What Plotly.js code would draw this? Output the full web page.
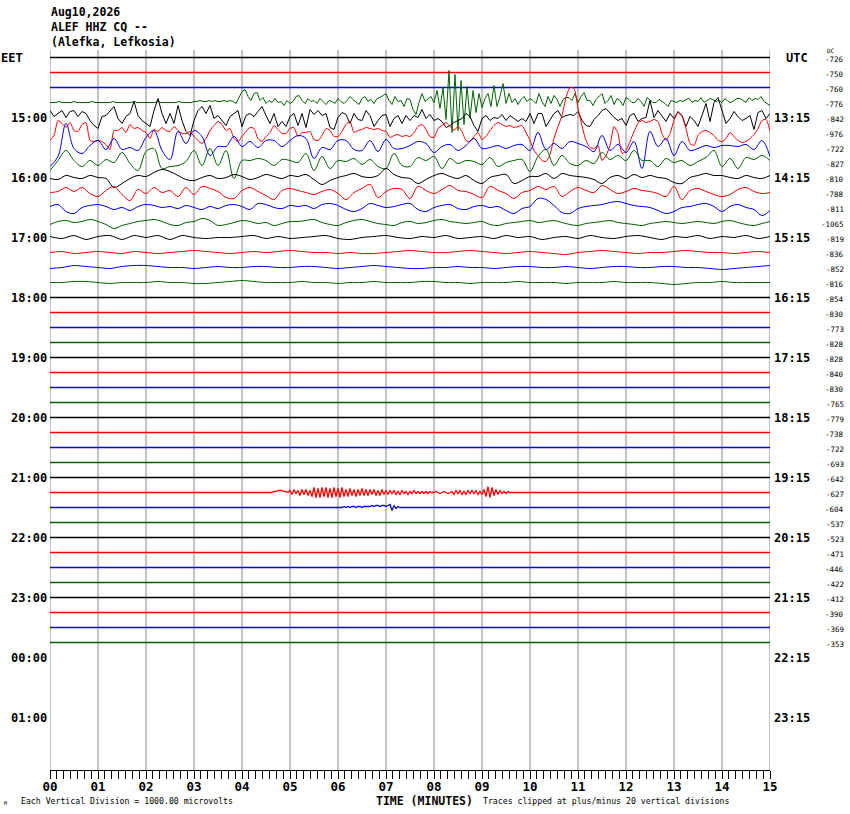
<!DOCTYPE html>
<html><head><meta charset="utf-8">
<script src="https://cdn.plot.ly/plotly-3.0.1.min.js"></script>
<style>html,body{margin:0;padding:0;background:#fff}#chart{width:850px;height:814px}</style>
</head><body><div id="chart"></div>
<script>
// ---------------- data ----------------
const headerLines = ["Aug10,2026", "ALEF HHZ CQ --", "(Alefka, Lefkosia)"];
const leftZone = "EET";
const rightZone = "UTC";
const eetLabels = ["15:00","16:00","17:00","18:00","19:00","20:00","21:00","22:00","23:00","00:00","01:00"];
const utcLabels = ["13:15","14:15","15:15","16:15","17:15","18:15","19:15","20:15","21:15","22:15","23:15"];
const dcValues = [-726,-750,-760,-776,-842,-976,-722,-827,-810,-788,-811,-1065,-819,-836,-852,-816,-854,-830,-773,-828,
  -828,-840,-830,-765,-779,-738,-722,-693,-642,-627,-604,-537,-523,-471,-446,-422,-412,-390,-369,-353];
const minuteLabels = ["00","01","02","03","04","05","06","07","08","09","10","11","12","13","14","15"];
const minuteValues = [0,1,2,3,4,5,6,7,8,9,10,11,12,13,14,15];
const rowColors = ["#000000","#ff0000","#0000ff","#006400"];
const nRows = 40;
const totalRows = 48;
const bottomLeftText = "Each Vertical Division = 1000.00 microvolts";
const axisTitle = "TIME (MINUTES)";
const bottomRightText = "Traces clipped at plus/minus 20 vertical divisions";

// trace amplitudes (1/15 of a row spacing), sampled evenly across the 15 minutes
const row3 = [0,0,0,1,0,0,0,0,1,0,0,0,0,0,1,0,0,0,0,0,0,1,0,0,0,0,0,0,1,0,0,0,0,0,0,0,1,0,0,0,0,0,0,1,0,0,0,
  0,1,1,2,1,1,2,1,2,1,1,2,1,2,1,
  -1,5,11,13,6,2,9,10,2,5,-1,2,0,4,0,1,-3,2,-1,
  1,6,7,2,-1,4,1,2,-1,4,1,-2,2,1,-1,4,1,-1,2,6,3,0,-2,4,6,1,3,-1,4,5,7,9,2,-2,6,1,2,-4,4,3,-7,-12,0,9,1,4,6,0,
  12,-6,15,-17,32,-30,28,-28,22,-22,16,-16,12,-10,9,-5,4,9,-4,17,-4,6,19,-1,9,0,4,-2,3,6,1,4,
  2,-1,9,1,-4,6,-1,7,3,-4,3,5,5,2,9,0,6,10,2,2,-3,3,6,9,-1,2,7,-2,4,2,-3,5,3,0,0,4,1,-4,5,2,0,0,3,1,-1,-4,2,1,0,2,
  1,3,4,0,2,1,5,0,2,4,3,1,2,0,4,1,0,2,4,4,2,0,5,2,4,3,6,1,-1,-3];
const row4 = [7,1,4,7,0,6,7,1,6,4,-3,-8,-11,1,2,7,11,-1,-6,1,4,16,2,-3,-6,-9,7,19,4,-6,4,-6,12,-3,-14,-18,-3,7,11,4,12,-1,2,-3,-8,1,4,7,-9,2,4,1,6,11,2,-6,4,-9,-4,-9,1,4,
  -8,4,-10,8,3,7,2,4,-10,-12,0,5,3,-6,4,-2,-3,7,2,-9,-3,2,3,-9,-1,2,-6,2,-3,2,0,8,-1,3,-3,-1,-4,-10,-8,-5,-3,-1,4,1,-8,-14,-1,2,-3,0,-1,3,-3,2,-1,-4,-1,-4,4,
  -6,4,4,-9,-2,4,7,0,2,3,2,6,-3,-8,-9,-2,2,7,9,4,0,-3,-1,-8,2,4,-4,-1,0,17,0,7,2,-4,4,-1,6,2,-9,1,-3,-9,2,14,-4,15,20,7,-6,-1,6,1,-3,-1,2,-12,5,7,-1,4];
const row5 = [-8,-3,12,9,5,10,2,1,8,10,-8,-9,-8,-9,-12,-17,2,2,5,0,8,4,5,2,0,-6,3,1,5,2,1,6,2,-1,-1,1,-4,-8,-11,-6,2,7,11,8,2,4,-6,-9,-4,1,5,4,-6,-9,-4,0,7,3,-1,-1,4,5,
  -4,0,0,1,-7,-8,-3,4,2,-4,-4,1,8,11,0,2,3,5,4,3,4,2,1,-5,-3,-2,-4,-3,-4,0,6,8,3,-4,-5,4,7,10,6,2,6,1,-8,-9,-4,0,-7,-4,2,7,10,8,6,7,5,6,7,0,-8,
  -18,-23,-28,-29,-22,-6,6,17,35,45,44,24,7,-8,-15,-16,-13,-28,-23,-13,6,-1,-21,-18,-9,1,9,12,10,11,13,11,-1,-8,-1,12,20,16,4,-11,-13,-3,1,2,0,-3,-8,-9,-6,0,-4,-8,-10,-9,-6,-2,4,12,13,2];
const row6 = [-19,-9,24,-1,-6,2,7,-2,9,-2,0,-3,10,17,-3,-12,16,4,17,11,-8,1,1,11,1,6,0,7,7,1,7,
  12,9,-11,0,-2,7,7,-2,-3,7,-4,8,-1,-1,2,6,4,-5,1,3,-3,2,9,-1,0,2,-1,2,3,-3,
  15,-2,4,-1,6,4,1,-4,12,-3,3,-5,6,-21,16,1,9,-8,6,-3,-1,2,0,2,2,1,3,-2,7,-9];
const row7 = [-8,2,12,2,-4,2,-3,3,0,10,-1,-8,11,14,-6,-4,-3,1,12,-3,14,-3,12,-16,2,2,4,2,-3,3,2,
  0,9,-8,6,-6,2,1,4,-2,3,-4,-6,9,-3,-4,5,2,6,-6,4,-1,2,1,-2,5,-4,0,2,3,-9,
  6,13,-3,7,-1,-3,2,-1,10,3,7,2,12,2,2,-4,4,0,2,-3,1,5,12,-4,4,-6,5,3,7,2];
const row8 = [-1,-2,2,0,-1,2,0,-1,-10,-6,-1,2,1,5,8,6,2,-2,-3,0,2,-1,0,3,1,-2,0,3,1,-1,2,
  1,3,-2,-7,-3,0,2,4,1,0,2,9,3,0,-1,-6,-2,2,4,1,-1,2,-3,-6,0,2,3,-6,-3,1,
  1,4,-1,4,2,1,0,-2,-6,0,2,-1,3,0,2,0,-1,-5,-6,0,2,4,2,2,0,-1,2,0,-1,2];
const row9 = [0,1,5,1,5,-1,-4,2,6,-2,-8,3,-1,5,0,2,-4,5,-2,6,4,1,-5,-6,2,5,1,-3,-7,2,4,
  2,0,-2,1,3,-1,-7,0,4,8,-5,1,4,3,-6,6,2,-1,3,7,2,1,-2,-5,6,2,-1,-6,0,2,
  6,3,6,-4,1,5,2,0,7,3,-1,1,4,2,1,-1,-4,6,-7,2,4,1,-2,-4,-2,3,5,1,-1,0];
const row10 = [1,3,-4,-6,0,2,3,1,-2,0,-3,1,3,2,0,1,-1,2,0,-2,1,-1,2,3,1,-2,4,3,0,-1,2,
  1,2,-1,3,4,2,-2,-4,-1,4,2,0,1,3,4,-2,-4,0,2,3,-1,-2,1,2,0,1,-3,-6,-1,1,
  9,8,2,-5,-6,-1,1,2,3,5,6,4,2,1,0,-3,-6,-4,0,1,3,4,1,-4,1,3,0,-2,-8,-3];
const row11 = [-2,1,2,0,1,3,1,-2,-6,-3,-1,1,2,3,1,-2,-3,0,1,4,2,-3,-2,0,2,1,-1,0,-3,-1,1,
  1,2,3,0,-2,-3,0,2,3,1,-1,-2,-3,0,1,-1,0,2,3,1,0,-1,0,1,-2,-3,-1,0,1,2,
  0,1,2,0,-2,-3,-1,0,1,2,0,-1,-2,-3,-1,0,1,0,-1,0,1,0,-1,1,2,0,-2,-3,-1,1];
const row12 = [1,-1,2,-2,1,2,-2,2,0,2,-2,2,0,-1,0,0,1,2,-1,1,-1,0,1,2,-1,-2,0,1,2,0,-1,1,0,2,-1,0,1,-1,2,0,1,-2,0,1,-1,2,0,-1,1,2,0,-2,1,0,2,-1,1,0,2,-1,1];
const row13 = [0,1,-1,0,1,0,-1,1,0,-1,0,1,2,1,0,-1,0,1,0,1,2,1,0,0,-1,0,-1,-1,0,1,2,1,0,0,1,2,1,0,-1,0,1,0,-1,-2,0,1,2,1,0,-1,0,0,1,2,1,0,0,-1,0,1,0];
const row14 = [-1,0,2,1,0,-1,1,2,2,1,0,0,-1,0,1,0,0,1,1,0,0,1,1,0,-1,0,1,2,1,0,-1,-1,0,0,1,0,0,-1,0,1,1,0,0,1,0,-1,0,1,1,0,0,1,1,0,0,-1,-2,-1,0,1,2];
const row15 = [0,0,1,1,0,-1,0,0,0,1,0,0,-1,-1,0,1,2,1,0,0,0,1,0,0,-1,0,0,1,0,0,0,1,1,0,0,-1,0,0,0,1,0,0,0,-1,0,0,0,1,0,0,0,-1,-2,-1,0,0,1,0,0,0,0];
// local events on quiet rows: start minute, sample step (minutes), amplitudes
const row29EventStart = 4.583, row29EventStep = 1/24;
const row29Event = [0,0,1,1,2,2,2,1,1,0,
  2,-2,3,-1,2,-3,3,-2,3,-3,2,
  -4,5,-5,4,-5,5,-4,5,-5,4,-5,5,-4,4,-5,5,
  -4,3,-4,4,-3,3,-4,3,-3,4,-3,3,-3,3,-2,3,-3,2,-3,3,-2,2,
  -2,2,-1,2,-2,1,-2,2,-1,1,-2,1,-1,2,-1,1,-1,1,-1,1,-1,1,0,
  0,1,0,-1,0,1,0,-1,0,
  1,-2,2,-1,2,-2,1,-2,2,-1,2,-1,2,-2,1,-2,
  3,-4,6,-5,5,-3,3,-2,
  2,-1,1,-1,1,0];
const row30EventStart = 6.042, row30EventStep = 1/24;
const row30Event = [0,0,1,0,1,0,1,1,0,1,1,0,1,1,1,1,2,1,2,2,1,2,2,1,2,3,-3,2,-1,1,0];

// ---------------- drawing ----------------
const AMP = 15; // amplitude units per row spacing
const PL = 50, PT = 50, PW = 720, PH = 720;
const fx = p => (p - PL) / PW;
const fy = p => (PT + PH - p) / PH;
const rowY = p => (p - PT) / (PH / totalRows);

const busy = {3: row3, 4: row4, 5: row5, 6: row6, 7: row7, 8: row8, 9: row9, 10: row10, 11: row11,
  12: row12, 13: row13, 14: row14, 15: row15};
const smoothRows = {5: 0.6, 6: 1, 7: 1, 8: 1, 9: 1, 10: 1, 11: 1, 12: 0.8, 13: 0.8, 14: 0.8, 15: 0.8};
const events = {29: [row29EventStart, row29EventStep, row29Event], 30: [row30EventStart, row30EventStep, row30Event]};

const traces = [];
for (let i = 0; i < nRows; i++) {
  let xs, vs, w = 1;
  if (busy[i]) {
    vs = busy[i];
    xs = vs.map((_, k) => 15 * k / (vs.length - 1));
  } else if (events[i]) {
    const [s, st, ev] = events[i];
    xs = [0].concat(ev.map((_, k) => s + k * st), [15]);
    vs = [0].concat(ev, [0]);
    w = 1.3;
  } else {
    xs = [0, 15]; vs = [0, 0]; w = 1.6;
  }
  const line = {color: rowColors[i % 4], width: w};
  if (smoothRows[i]) { line.shape = 'spline'; line.smoothing = smoothRows[i]; }
  traces.push({x: xs, y: vs.map(v => i + 0.5 - v / AMP), type: 'scatter', mode: 'lines',
    line: line, hoverinfo: 'skip', showlegend: false});
}

const mono = "DejaVu Sans Mono, monospace";
const ann = [];
headerLines.forEach((t, k) => ann.push({text: t, xref: 'paper', yref: 'paper', x: fx(49), y: fy(12 + 15 * k),
  xanchor: 'left', yanchor: 'middle', showarrow: false, font: {family: mono, size: 11.5, weight: 'bold', color: '#000'}}));
ann.push({text: leftZone, xref: 'paper', yref: 'y', x: fx(-1), y: 0.5, xanchor: 'left', yanchor: 'middle', showarrow: false,
  font: {family: mono, size: 12, weight: 'bold', color: '#000'}});
ann.push({text: rightZone, xref: 'paper', yref: 'y', x: fx(784), y: 0.5, xanchor: 'left', yanchor: 'middle', showarrow: false,
  font: {family: mono, size: 12, weight: 'bold', color: '#000'}});
eetLabels.forEach((t, k) => ann.push({text: t, xref: 'paper', yref: 'y', x: fx(49), y: 4 * (k + 1) + 0.5,
  xanchor: 'right', yanchor: 'middle', showarrow: false, font: {family: mono, size: 12, weight: 'bold', color: '#000'}}));
utcLabels.forEach((t, k) => ann.push({text: t, xref: 'paper', yref: 'y', x: fx(772), y: 4 * (k + 1) + 0.5,
  xanchor: 'left', yanchor: 'middle', showarrow: false, font: {family: mono, size: 12, weight: 'bold', color: '#000'}}));
dcValues.forEach((v, k) => ann.push({text: String(v), xref: 'paper', yref: 'y', x: fx(846), y: k + 0.6,
  xanchor: 'right', yanchor: 'middle', showarrow: false, font: {family: mono, size: 7.5, color: '#000'}}));
ann.push({text: "DC", xref: 'paper', yref: 'y', x: fx(825), y: rowY(50.5), xanchor: 'left', yanchor: 'middle', showarrow: false,
  font: {family: mono, size: 6, color: '#000'}});
ann.push({text: bottomLeftText, xref: 'paper', yref: 'paper', x: fx(19), y: fy(801), xanchor: 'left', yanchor: 'middle', showarrow: false,
  font: {family: mono, size: 8.2, color: '#000'}});
ann.push({text: axisTitle, xref: 'paper', yref: 'paper', x: fx(374), y: fy(801), xanchor: 'left', yanchor: 'middle', showarrow: false,
  font: {family: mono, size: 11.5, weight: 'bold', color: '#000'}});
ann.push({text: bottomRightText, xref: 'paper', yref: 'paper', x: fx(481), y: fy(801), xanchor: 'left', yanchor: 'middle', showarrow: false,
  font: {family: mono, size: 8.2, color: '#000'}});
ann.push({text: "M", xref: 'paper', yref: 'paper', x: fx(2), y: fy(803), xanchor: 'left', yanchor: 'middle', showarrow: false,
  font: {family: mono, size: 5, color: '#000'}});

const shapes = minuteValues.map(m => ({type: 'line', xref: 'x', yref: 'paper', x0: m, x1: m, y0: 0, y1: 1,
  line: {color: '#888888', width: 1}, layer: 'below'}));

const minorVals = [];
for (let k = 0; k <= 15 * 7; k++) if (k % 7 !== 0) minorVals.push(k / 7);

const layout = {
  width: 850, height: 814,
  margin: {l: PL, r: 80, t: PT, b: 44, pad: 0},
  paper_bgcolor: '#fff', plot_bgcolor: '#fff',
  showlegend: false,
  xaxis: {range: [0, 15], showgrid: false, zeroline: false, showline: true, linecolor: '#000', linewidth: 1,
    ticks: 'outside', ticklen: 8, tickwidth: 1, tickcolor: '#000',
    tickmode: 'array', tickvals: minuteValues, ticktext: minuteLabels, ticklabelstandoff: -3,
    tickfont: {family: mono, size: 12.5, weight: 'bold', color: '#000'},
    minor: {tickmode: 'array', tickvals: minorVals, ticks: 'outside', ticklen: 8, tickwidth: 1, tickcolor: '#000', showgrid: false},
    fixedrange: true},
  yaxis: {range: [totalRows, 0], visible: false, fixedrange: true},
  annotations: ann,
  shapes: shapes
};
Plotly.newPlot('chart', traces, layout, {staticPlot: true, displayModeBar: false});
</script>
</body></html>
